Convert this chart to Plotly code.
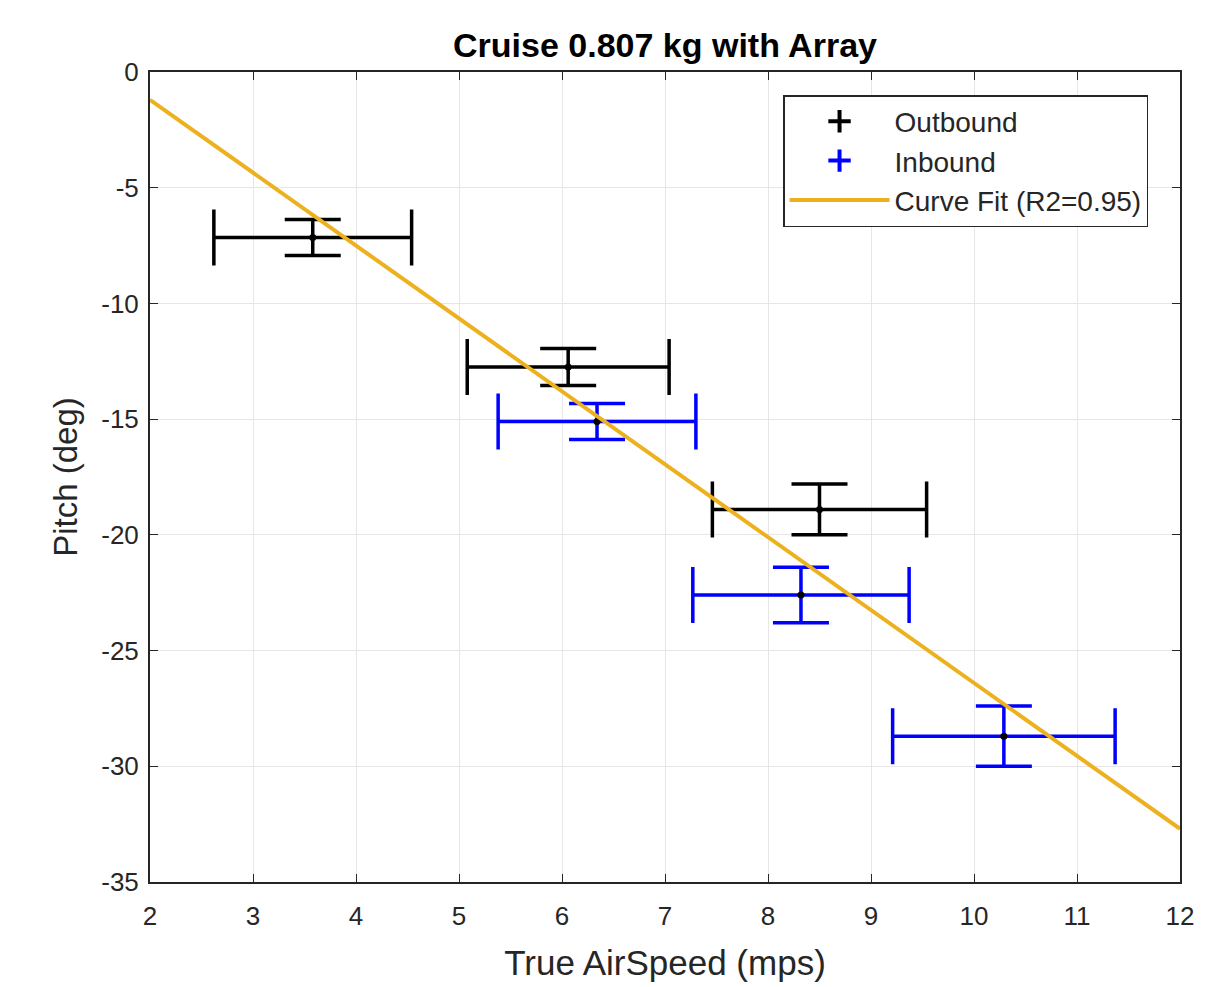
import plotly.graph_objects as go

# Outbound data
out_x = [3.58, 6.06, 8.50]
out_y = [-7.15, -12.75, -18.90]
out_xerr = [0.96, 0.98, 1.04]
out_yerr = [0.78, 0.80, 1.10]

# Inbound data
in_x = [6.34, 8.32, 10.29]
in_y = [-15.10, -22.60, -28.70]
in_xerr = [0.96, 1.05, 1.08]
in_yerr = [0.78, 1.20, 1.30]

# Curve fit endpoints
fit_x = [2, 12]
fit_y = [-1.2, -32.7]

x_ticks = list(range(2, 13))
y_ticks = [0, -5, -10, -15, -20, -25, -30, -35]
y_ticktext = ["0", "-5", "-10", "-15", "-20", "-25", "-30", "-35"]

FONT = "Liberation Sans, Arial, sans-serif"

fig = go.Figure()

def eb(series_x, series_y, ex, ey, color, name):
    fig.add_trace(go.Scatter(
        x=series_x, y=series_y, mode="markers", name=name, showlegend=False,
        marker=dict(color="black", size=7),
        error_x=dict(type="data", array=ex, visible=True, color=color, thickness=3.5, width=28),
        error_y=dict(type="data", array=ey, visible=True, color=color, thickness=3.5, width=28),
    ))
    # legend glyph
    fig.add_trace(go.Scatter(
        x=[None], y=[None], mode="markers", name=name, showlegend=True,
        marker=dict(symbol="cross-thin", size=16, color=color,
                    line=dict(color=color, width=4)),
    ))

eb(out_x, out_y, out_xerr, out_yerr, "black", "Outbound")
eb(in_x, in_y, in_xerr, in_yerr, "#0000FF", "Inbound")

fig.add_trace(go.Scatter(
    x=fit_x, y=fit_y, mode="lines", name="Curve Fit (R2=0.95)",
    line=dict(color="#EDB120", width=4),
))

axis_common = dict(
    showline=True, linecolor="#262626", linewidth=2, mirror="ticks",
    ticks="inside", ticklen=8, tickcolor="#262626", tickwidth=1,
    showgrid=True, gridcolor="#E6E6E6", gridwidth=1, zeroline=False,
    tickfont=dict(family=FONT, size=26, color="#262626"),
)

fig.update_layout(
    width=1226, height=987,
    paper_bgcolor="white", plot_bgcolor="white",
    margin=dict(l=142, r=54, t=64, b=113),
    title=dict(text="<b>Cruise 0.807 kg with Array</b>", x=657 / 1226, xanchor="center",
               y=1 - 37 / 987, yanchor="middle",
               font=dict(family=FONT, size=34, color="black")),
    xaxis=dict(range=[2, 12], tickvals=x_ticks, ticklabelstandoff=10,
               title=dict(text="True AirSpeed (mps)", standoff=20,
               font=dict(family=FONT, size=35, color="#262626")), **axis_common),
    yaxis=dict(range=[-35, 0], tickvals=y_ticks, ticktext=y_ticktext, ticklabelstandoff=4,
               title=dict(text="Pitch (deg)", standoff=14,
               font=dict(family=FONT, size=33, color="#262626")), **axis_common),
    legend=dict(x=0.6146, y=0.9716, xanchor="left", yanchor="top",
                bgcolor="white", bordercolor="#262626", borderwidth=1.5,
                font=dict(family=FONT, size=28, color="#262626"),
                itemwidth=100, tracegroupgap=0),
    showlegend=True,
)

fig.write_html("out.html")
